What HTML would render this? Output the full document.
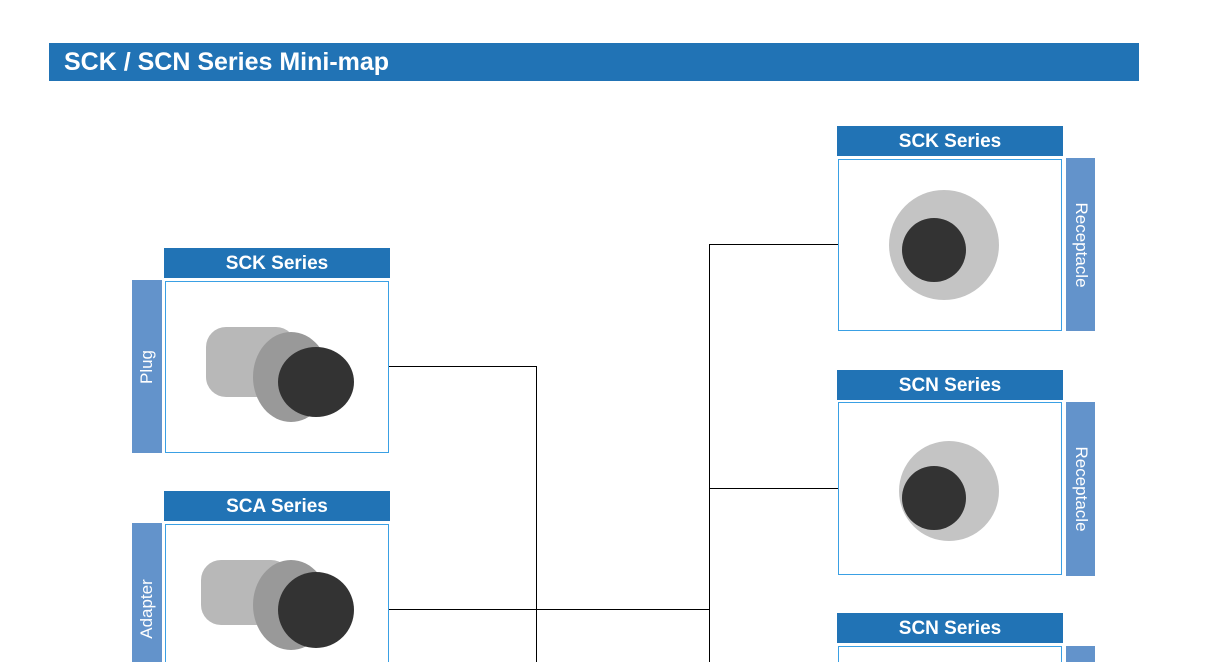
<!DOCTYPE html>
<html style="width:1214px;height:662px;overflow:hidden"><head><style>
body{margin:0;width:1214px;height:662px;overflow:hidden;background:#fff;position:relative;font-family:"Liberation Sans",sans-serif}
.a{position:absolute}
.t{background:#2173b5;color:#fff;font-weight:bold;font-size:19px;text-align:center;line-height:31px}
.b{border:1px solid #3aa0e4;box-sizing:border-box;background:#fff}
.s{background:#6393cb;color:#fff;font-size:17px}
.s span{position:absolute;left:50%;top:50%;white-space:nowrap}
.l{background:#000}
</style></head><body>
<div class="a" style="left:49px;top:43px;width:1090px;height:38px;background:#2173b5;color:#fff;font-weight:bold;font-size:25px;line-height:38px;padding-left:15px;box-sizing:border-box">SCK / SCN Series Mini-map</div>

<div class="a l" style="left:389px;top:366px;width:148px;height:1px"></div>
<div class="a l" style="left:536px;top:366px;width:1px;height:296px"></div>
<div class="a l" style="left:389px;top:609px;width:320px;height:1px"></div>
<div class="a l" style="left:709px;top:244px;width:1px;height:418px"></div>
<div class="a l" style="left:709px;top:244px;width:129px;height:1px"></div>
<div class="a l" style="left:709px;top:488px;width:129px;height:1px"></div>

<div class="a t" style="left:164px;top:248px;width:226px;height:30px">SCK Series</div>
<div class="a s" style="left:132px;top:280px;width:30px;height:173px"><span style="transform:translate(-50%,-50%) rotate(-90deg)">Plug</span></div>
<div class="a b" style="left:165px;top:281px;width:224px;height:172px">
<svg width="222" height="170"><rect x="40" y="45" width="90" height="70" rx="20" fill="#b8b8b8"/><ellipse cx="125" cy="95" rx="38" ry="45" fill="#999"/><ellipse cx="150" cy="100" rx="38" ry="35" fill="#333"/></svg></div>

<div class="a t" style="left:164px;top:491px;width:226px;height:30px">SCA Series</div>
<div class="a s" style="left:132px;top:523px;width:30px;height:139px"><span style="transform:translate(-50%,-50%) rotate(-90deg);top:86px">Adapter</span></div>
<div class="a b" style="left:165px;top:524px;width:224px;height:150px">
<svg width="222" height="150"><rect x="35" y="35" width="90" height="65" rx="20" fill="#b8b8b8"/><ellipse cx="125" cy="80" rx="38" ry="45" fill="#999"/><ellipse cx="150" cy="85" rx="38" ry="38" fill="#333"/></svg></div>

<div class="a t" style="left:837px;top:126px;width:226px;height:30px">SCK Series</div>
<div class="a b" style="left:838px;top:159px;width:224px;height:172px">
<svg width="222" height="170"><ellipse cx="105" cy="85" rx="55" ry="55" fill="#c4c4c4"/><ellipse cx="95" cy="90" rx="32" ry="32" fill="#333"/></svg></div>
<div class="a s" style="left:1066px;top:158px;width:29px;height:173px"><span style="transform:translate(-50%,-50%) rotate(90deg)">Receptacle</span></div>

<div class="a t" style="left:837px;top:370px;width:226px;height:30px">SCN Series</div>
<div class="a b" style="left:838px;top:402px;width:224px;height:173px">
<svg width="222" height="170"><ellipse cx="110" cy="88" rx="50" ry="50" fill="#c4c4c4"/><ellipse cx="95" cy="95" rx="32" ry="32" fill="#333"/></svg></div>
<div class="a s" style="left:1066px;top:402px;width:29px;height:174px"><span style="transform:translate(-50%,-50%) rotate(90deg)">Receptacle</span></div>

<div class="a t" style="left:837px;top:613px;width:226px;height:30px">SCN Series</div>
<div class="a b" style="left:838px;top:646px;width:224px;height:30px"></div>
<div class="a s" style="left:1066px;top:646px;width:29px;height:16px"></div>
</body></html>
